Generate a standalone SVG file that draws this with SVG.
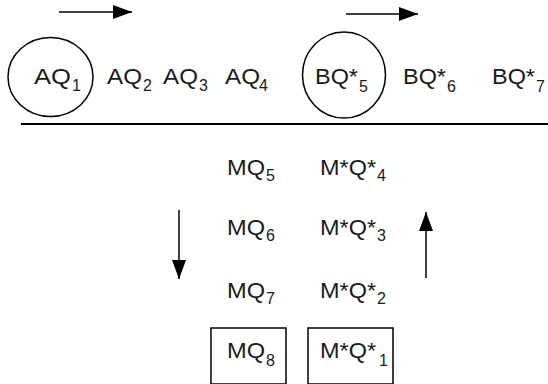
<svg xmlns="http://www.w3.org/2000/svg" width="548" height="384" viewBox="0 0 548 384">
<style>
text{font-family:"Liberation Sans","DejaVu Sans",Arial,sans-serif;fill:#1a1a1a}
.m{font-size:22px}
.s{font-size:16px}
.shape{fill:none;stroke:#000;stroke-width:1.5}
.conn{stroke:#000;stroke-width:1.5;fill:none}
</style>
<defs>
<marker id="ah" markerUnits="userSpaceOnUse" markerWidth="20" markerHeight="14" refX="19" refY="7" orient="auto">
<path d="M0,0 L19,7 L0,14 Z" fill="#000"/>
</marker>
</defs>
<rect width="548" height="384" fill="#fff"/>
<g id="connectors">
<line class="conn" x1="59" y1="12" x2="132" y2="12" marker-end="url(#ah)"/>
<line class="conn" x1="346" y1="14" x2="418" y2="14" marker-end="url(#ah)"/>
<line class="conn" x1="179" y1="210" x2="179" y2="279" marker-end="url(#ah)"/>
<line class="conn" x1="426" y1="278" x2="426" y2="212" marker-end="url(#ah)"/>
<line x1="21" y1="124" x2="548" y2="124" stroke="#000" stroke-width="2"/>
</g>
<g id="AQ1">
<ellipse class="shape" cx="50.5" cy="77" rx="42.5" ry="39.5"/>
<text class="m" x="34" y="84" textLength="37" lengthAdjust="spacingAndGlyphs">AQ</text><text class="s" x="72" y="91">1</text>
</g>
<g id="AQ2"><text class="m" x="107" y="84" textLength="35" lengthAdjust="spacingAndGlyphs">AQ</text><text class="s" x="143" y="91">2</text></g>
<g id="AQ3"><text class="m" x="163" y="84" textLength="35" lengthAdjust="spacingAndGlyphs">AQ</text><text class="s" x="199" y="91">3</text></g>
<g id="AQ4"><text class="m" x="225" y="84" textLength="35" lengthAdjust="spacingAndGlyphs">AQ</text><text class="s" x="259" y="91">4</text></g>
<g id="BQ5">
<ellipse class="shape" cx="344" cy="75" rx="41.5" ry="43"/>
<text class="m" x="315" y="84" textLength="43" lengthAdjust="spacingAndGlyphs">BQ*</text><text class="s" x="359" y="92">5</text>
</g>
<g id="BQ6"><text class="m" x="403" y="84" textLength="43" lengthAdjust="spacingAndGlyphs">BQ*</text><text class="s" x="447" y="92">6</text></g>
<g id="BQ7"><text class="m" x="492" y="84" textLength="43" lengthAdjust="spacingAndGlyphs">BQ*</text><text class="s" x="536" y="92">7</text></g>
<g id="MQ5"><text class="m" x="227" y="175" textLength="38" lengthAdjust="spacingAndGlyphs">MQ</text><text class="s" x="266" y="181">5</text></g>
<g id="MQ6"><text class="m" x="227" y="235" textLength="38" lengthAdjust="spacingAndGlyphs">MQ</text><text class="s" x="266" y="241">6</text></g>
<g id="MQ7"><text class="m" x="227" y="298" textLength="38" lengthAdjust="spacingAndGlyphs">MQ</text><text class="s" x="266" y="304">7</text></g>
<g id="MQ8">
<rect class="shape" x="211" y="328" width="75" height="56"/>
<text class="m" x="227" y="358" textLength="38" lengthAdjust="spacingAndGlyphs">MQ</text><text class="s" x="266" y="366">8</text>
</g>
<g id="MQstar4"><text class="m" x="320" y="175" textLength="56" lengthAdjust="spacingAndGlyphs">M*Q*</text><text class="s" x="377" y="181">4</text></g>
<g id="MQstar3"><text class="m" x="320" y="235" textLength="56" lengthAdjust="spacingAndGlyphs">M*Q*</text><text class="s" x="377" y="241">3</text></g>
<g id="MQstar2"><text class="m" x="320" y="298" textLength="56" lengthAdjust="spacingAndGlyphs">M*Q*</text><text class="s" x="377" y="304">2</text></g>
<g id="MQstar1">
<rect class="shape" x="308" y="328" width="85" height="56"/>
<text class="m" x="320" y="358" textLength="56" lengthAdjust="spacingAndGlyphs">M*Q*</text><text class="s" x="379" y="366">1</text>
</g>
</svg>
